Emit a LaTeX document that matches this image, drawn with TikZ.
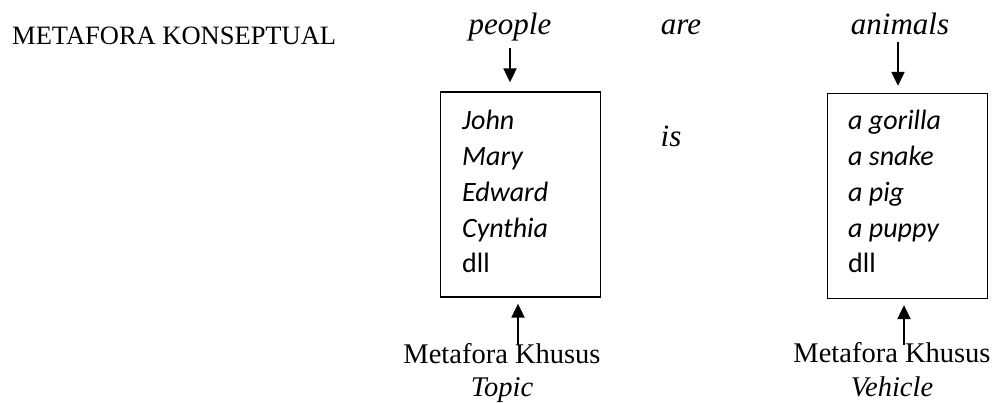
\documentclass[tikz,border=0pt]{standalone}
\usepackage{fontspec}
\setmainfont{Liberation Serif}
\newfontfamily\listfont{Carlito}
\usetikzlibrary{arrows.meta}
\begin{document}
\begin{tikzpicture}[x=1pt,y=-1pt,
  head/.style={inner sep=0pt,anchor=base,font=\fontsize{31}{31}\selectfont\itshape},
  title/.style={inner sep=0pt,anchor=base west,font=\fontsize{26.5}{26.5}\selectfont},
  caption/.style={inner sep=0pt,anchor=base,align=center,
    font=\fontsize{28.5}{33.5}\selectfont},
  frame/.style={draw,line width=1.3pt,inner sep=0pt,minimum width=160pt,minimum height=205pt},
  items/.style={inner sep=0pt,anchor=base west,align=left,
    font=\fontsize{28}{35.8}\listfont\itshape},
  arr/.style={line width=2pt,-{Triangle[length=14pt,width=13pt]}}]
\useasboundingbox (0,0) rectangle (994,403);

\node[title] (konsep) at (12,45) {METAFORA KONSEPTUAL};
\node[head] (people) at (510,35) {people};
\node[head] (are) at (681,35) {are};
\node[head] (animals) at (900,35) {animals};
\node[head] (is) at (671,147) {is};

\node[frame] (topic) at (520.5,194.5) {};
\node[frame] (vehicle) at (907.5,196) {};

% a multi-line node sits on the baseline of its last line
\node[items] (people-list) at (462,273)
  {John\\Mary\\Edward\\Cynthia\\\upshape dll};
\node[items] (animal-list) at (848,273)
  {a gorilla\\a snake\\a pig\\a puppy\\\upshape dll};

\node[caption] (topic-cap) at (502,397) {Metafora Khusus\\\itshape Topic};
\node[caption] (vehicle-cap) at (892,396) {Metafora Khusus\\\itshape Vehicle};

\draw[arr,shorten <=6pt,shorten >=9pt] (people.south) -- (people.south |- topic.north);
\draw[arr,shorten <=6pt,shorten >=7pt] (animals.south -| 898,0) -- (898,0 |- vehicle.north);

\coordinate (topic-foot) at (518,345);
\coordinate (vehicle-foot) at (904,345);
\draw[arr,shorten >=6pt] (topic-foot) -- (topic-foot |- topic.south);
\draw[arr,shorten >=6pt] (vehicle-foot) -- (vehicle-foot |- vehicle.south);
\end{tikzpicture}
\end{document}
